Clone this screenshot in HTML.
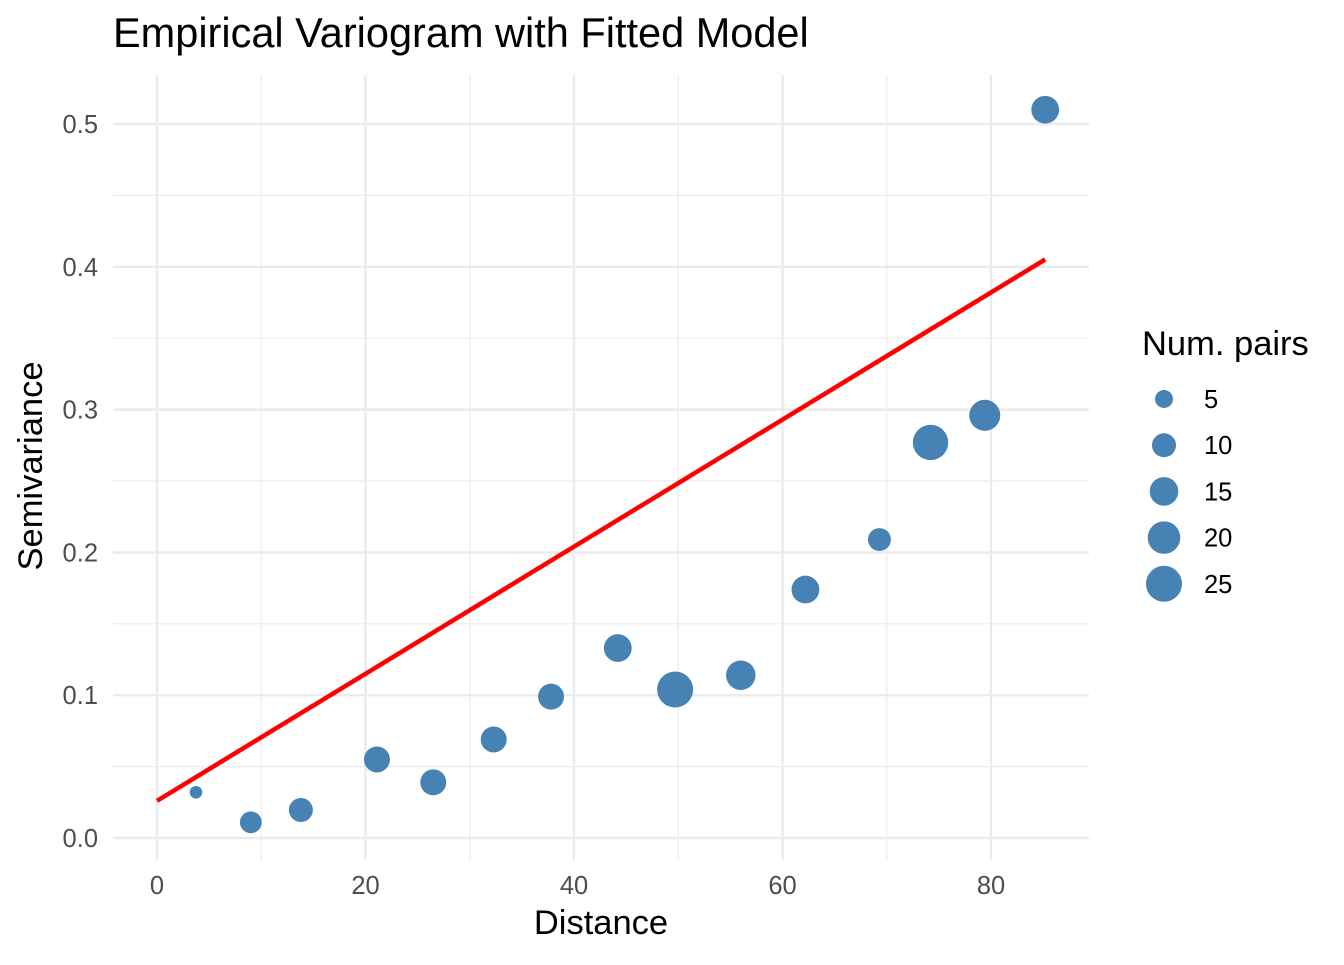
<!DOCTYPE html>
<html><head><meta charset="utf-8"><style>
body{margin:0;background:#fff}
svg text{font-family:"Liberation Sans",Arial,sans-serif}
</style></head><body>
<svg id="chart" width="1344" height="960">
<rect width="1344" height="960" fill="#fff"/>
<text x="113" y="47" font-size="41.5" fill="#000">Empirical Variogram with Fitted Model</text>
<g id="grid"></g><g id="line"></g><g id="pts"></g><g id="axes"></g><g id="legend"></g>
<text x="601" y="934" font-size="34.5" text-anchor="middle">Distance</text>
<text transform="translate(42,466) rotate(-90)" font-size="34.5" text-anchor="middle">Semivariance</text>
</svg>
<script>
const distances=[3.74,9.0,13.8,21.1,26.5,32.3,37.8,44.2,49.7,56.0,62.2,69.3,74.2,79.4,85.2];
const gammas=[0.032,0.011,0.0196,0.055,0.039,0.069,0.099,0.133,0.104,0.114,0.174,0.209,0.277,0.296,0.510];
const npairs=[2,8,10,12,12,12,12,14,25,16,14,9,24,18,14];
const nugget=0.026;
const slope=0.00445;
const xTicks=[0,20,40,60,80];
const xMinor=[10,30,50,70];
const yTicks=[0,0.1,0.2,0.3,0.4,0.5];
const yMinor=[0.05,0.15,0.25,0.35,0.45];
const legendSizes=[5,10,15,20,25];
const NS="http://www.w3.org/2000/svg";
const X=v=>157+v*10.425, Y=v=>838-v*1428, R=n=>1.7+3.26*Math.sqrt(n);
const L=113,Rt=1089,T=75,B=860;
function mk(p,tag,a){const e=document.createElementNS(NS,tag);for(const k in a)e.setAttribute(k,a[k]);document.getElementById(p).appendChild(e);return e;}
yMinor.forEach(v=>{const e=mk('grid','line',{x1:L,x2:Rt,y1:Y(v),y2:Y(v),stroke:'#ebebeb','stroke-width':1.2});

});
xMinor.forEach(v=>{const e=mk('grid','line',{x1:X(v),x2:X(v),y1:T,y2:B,stroke:'#ebebeb','stroke-width':1.2});

});
yTicks.forEach(v=>{const e=mk('grid','line',{x1:L,x2:Rt,y1:Y(v),y2:Y(v),stroke:'#ebebeb','stroke-width':2.4});


const t=mk('axes','text',{x:98,y:Y(v)+9,'font-size':25.5,fill:'#4d4d4d','text-anchor':'end'});t.textContent=v.toFixed(1);

});
xTicks.forEach(v=>{const e=mk('grid','line',{x1:X(v),x2:X(v),y1:T,y2:B,stroke:'#ebebeb','stroke-width':2.4});


const t=mk('axes','text',{x:X(v),y:894,'font-size':25.5,fill:'#4d4d4d','text-anchor':'middle'});t.textContent=v;

});
const xmax=distances[distances.length-1];
const ln=mk('line','line',{x1:X(0),y1:Y(nugget),x2:X(xmax),y2:Y(nugget+slope*xmax),stroke:'#ff0000','stroke-width':4.5});


distances.forEach((d,i)=>{const c=mk('pts','circle',{cx:X(d),cy:Y(gammas[i]),r:R(npairs[i]),fill:'#4682b4'});

});
const lt=mk('legend','text',{x:1142,y:355,'font-size':34.5});lt.textContent='Num. pairs';


legendSizes.forEach((n,i)=>{const cy=399+i*46.2;
const c=mk('legend','circle',{cx:1164,cy:cy,r:R(n),fill:'#4682b4'});


const t=mk('legend','text',{x:1204,y:cy+9,'font-size':25.5});t.textContent=n;

});
</script>
</body></html>
